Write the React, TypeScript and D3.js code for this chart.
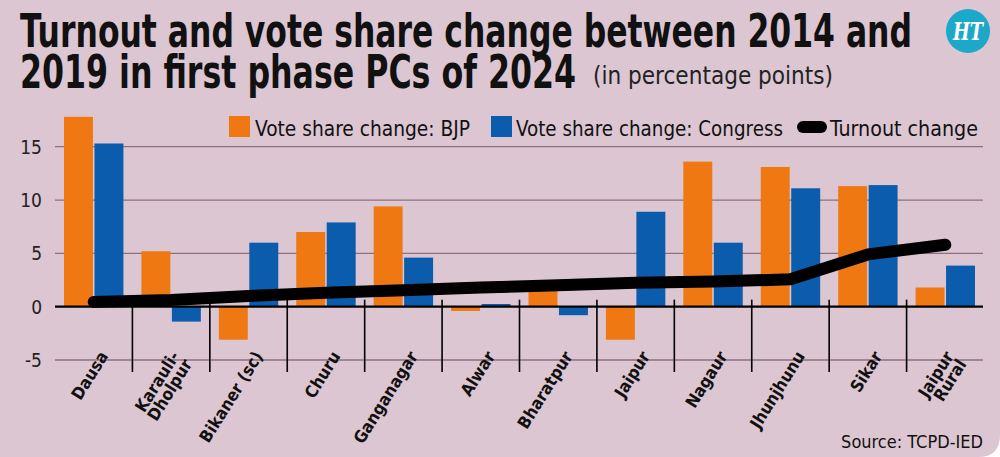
import * as d3 from 'd3'

const categories = ['Dausa', 'Karauli-Dholpur', 'Bikaner (sc)', 'Churu', 'Ganganagar', 'Alwar', 'Bharatpur', 'Jaipur', 'Nagaur', 'Jhunjhunu', 'Sikar', 'Jaipur Rural']
const labelLines = [['Dausa'], ['Karauli-', 'Dholpur'], ['Bikaner (sc)'], ['Churu'], ['Ganganagar'], ['Alwar'], ['Bharatpur'], ['Jaipur'], ['Nagaur'], ['Jhunjhunu'], ['Sikar'], ['Jaipur', 'Rural']]
const bjpChange = [17.8, 5.2, -3.1, 7.0, 9.4, -0.4, 1.5, -3.1, 13.6, 13.1, 11.3, 1.8]
const congressChange = [15.3, -1.4, 6.0, 7.9, 4.6, 0.25, -0.8, 8.9, 6.0, 11.1, 11.4, 3.85]
const turnoutChange = [0.45, 0.63, 1.0, 1.3, 1.55, 1.8, 2.0, 2.25, 2.35, 2.57, 4.9, 5.8]
const yTicks = [-5, 0, 5, 10, 15]

const W = 1000
const H = 457
const BG = '#dcc6d2'
const ORANGE = '#ef7812'
const BLUE = '#0b5cad'
const FONT = "'Liberation Sans Narrow', 'DejaVu Sans Condensed', 'Roboto Condensed', sans-serif"

export default function App() {
  const x = d3.scaleBand<string>().domain(categories).range([55, 984]).paddingInner(0)
  const bw = x.bandwidth()
  const inner = d3.scaleBand<string>().domain(['bjp', 'cong']).range([9, bw - 9]).paddingInner(0.05)
  const y = d3.scaleLinear().domain([-5, 15]).range([360, 146.7])
  const y0 = y(0)

  const line = d3
    .line<number>()
    .x((_, i) => (x(categories[i]) ?? 0) + bw / 2)
    .y(v => y(v))

  const r = 22
  const bgPath = `M0,0 H${W} V${H - r} Q${W},${H} ${W - r},${H} H0 Z`

  return (
    <div style={{ position: 'fixed', left: 0, top: 0, background: '#fff' }}>
      <svg width={W} height={H} viewBox={`0 0 ${W} ${H}`} style={{ display: 'block', fontFamily: FONT }}>
        <path d={bgPath} fill={BG} />

        {/* title */}
        <text x={20} y={47} fontSize={46} fontWeight={700} fill="#111" textLength={892} lengthAdjust="spacingAndGlyphs">
          Turnout and vote share change between 2014 and
        </text>
        <text x={20} y={88} fontSize={46} fontWeight={700} fill="#111" textLength={556} lengthAdjust="spacingAndGlyphs">
          2019 in first phase PCs of 2024
        </text>
        <text x={593} y={84} fontSize={25} fill="#222" textLength={240} lengthAdjust="spacingAndGlyphs">
          (in percentage points)
        </text>

        {/* logo */}
        <circle cx={968} cy={31} r={22} fill="#1ca8c8" />
        <text x={968} y={40} textAnchor="middle" fontSize={24} fontStyle="italic" fontWeight={700} fill="#fff" fontFamily="'DejaVu Serif', serif" textLength={30} lengthAdjust="spacingAndGlyphs">
          HT
        </text>

        {/* grid */}
        {yTicks.map(t => (
          <g key={t}>
            {t !== 0 && (
              <line x1={55} x2={983} y1={y(t)} y2={y(t)} stroke="#8c6f80" strokeWidth={1.3} />
            )}
            <text x={42} y={y(t) + 7} textAnchor="end" fontSize={19} fill="#222">
              {t}
            </text>
          </g>
        ))}

        {/* legend */}
        <rect x={229} y={116} width={21} height={21} fill={ORANGE} />
        <text x={255} y={136} fontSize={22} fill="#111" textLength={215} lengthAdjust="spacingAndGlyphs">
          Vote share change: BJP
        </text>
        <rect x={491} y={116} width={21} height={21} fill={BLUE} />
        <text x={516} y={136} fontSize={22} fill="#111" textLength={267} lengthAdjust="spacingAndGlyphs">
          Vote share change: Congress
        </text>
        <line x1={803} x2={821} y1={127} y2={127} stroke="#000" strokeWidth={12} strokeLinecap="round" />
        <text x={830} y={136} fontSize={22} fill="#111" textLength={148} lengthAdjust="spacingAndGlyphs">
          Turnout change
        </text>

        {/* bars */}
        {categories.map((c, i) => {
          const bx = x(c) ?? 0
          const vals = [
            { key: 'bjp', v: bjpChange[i], color: ORANGE },
            { key: 'cong', v: congressChange[i], color: BLUE },
          ]
          return vals.map(d => (
            <rect
              key={c + d.key}
              x={bx + (inner(d.key) ?? 0)}
              width={inner.bandwidth()}
              y={Math.min(y(d.v), y0)}
              height={Math.abs(y(d.v) - y0)}
              fill={d.color}
            />
          ))
        })}

        {/* separators */}
        {categories.slice(1).map(c => {
          const sx = x(c) ?? 0
          return <line key={'sep' + c} x1={sx} x2={sx} y1={y0 - 7} y2={372} stroke="#000" strokeWidth={1.6} />
        })}
        <line x1={55} x2={983} y1={y0} y2={y0} stroke="#000" strokeWidth={2.2} />

        {/* turnout line */}
        <path
          d={line(turnoutChange) ?? ''}
          fill="none"
          stroke="#000"
          strokeWidth={12}
          strokeLinecap="round"
          strokeLinejoin="round"
        />

        {/* category labels */}
        {categories.map((c, i) => {
          const cx = (x(c) ?? 0) + bw / 2
          const lines = labelLines[i]
          const shift = lines.length > 1 ? -6 : 0
          return (
            <text
              key={'lab' + c}
              transform={`translate(${cx + 15 + shift},${356}) rotate(-58)`}
              textAnchor="end"
              fontSize={17}
              fontWeight={700}
              fill="#111"
            >
              {lines.map((l, j) => (
                <tspan key={l} x={0} dy={j === 0 ? 0 : 15}>
                  {l}
                </tspan>
              ))}
            </text>
          )
        })}

        <text x={983} y={448} textAnchor="end" fontSize={18} fill="#111">
          Source: TCPD-IED
        </text>
      </svg>
    </div>
  )
}
